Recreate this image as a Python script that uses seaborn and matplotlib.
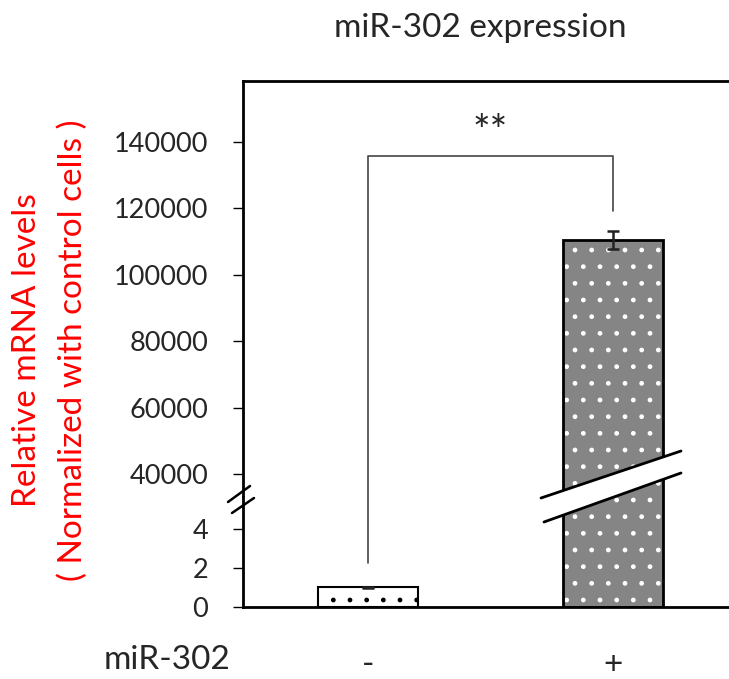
import matplotlib
matplotlib.use('Agg')
import matplotlib.pyplot as plt
import seaborn as sns
import pandas as pd
from matplotlib.patches import Rectangle, Polygon
from matplotlib.lines import Line2D

# ---- data ----
groups = ['-', '+']
values = [1.0, 110400]
errors = [0.05, 2800]
upper_ticks = [40000, 60000, 80000, 100000, 120000, 140000]
lower_ticks = [0, 2, 4]
title = 'miR-302 expression'
ylabel1 = 'Relative mRNA levels'
ylabel2 = '( Normalized with control cells )'
xrow_label = 'miR-302'
sig_label = '**'

sns.set_theme(style='white')
plt.rcParams['font.family'] = ['Lato', 'DejaVu Sans']
plt.rcParams['hatch.linewidth'] = 1.0

W, H = 729, 679
fig = plt.figure(figsize=(W / 100, H / 100), dpi=100)
fig.patch.set_facecolor('white')

def fx(px):
    return px / W

def fy(py):
    return 1 - py / H

ax_top = fig.add_axes([fx(243), fy(497), 1 - fx(243), fy(81) - fy(497)])
ax_bot = fig.add_axes([fx(243), fy(607), 1 - fx(243), fy(497) - fy(607)])

df = pd.DataFrame({'group': groups, 'value': values})
fs = 19.5
fs_big = 24

for ax in (ax_top, ax_bot):
    sns.barplot(data=df, x='group', y='value', hue='group', order=groups,
                palette=['white', '#858585'], legend=False, width=0.405,
                errorbar=None, ax=ax, zorder=2)
    for i, p in enumerate(ax.patches):
        if i == 0:
            p.set_edgecolor('black')
            p.set_hatch('.')
            p.set_linewidth(1.5)
        else:
            p.set_edgecolor('white')
            p.set_hatch('.')
            p.set_linewidth(0)
            outline = Rectangle(p.get_xy(), p.get_width(), p.get_height(),
                                fill=False, edgecolor='black', linewidth=2,
                                zorder=3)
            ax.add_patch(outline)
    ax.errorbar(x=[0, 1], y=values, yerr=errors, fmt='none', ecolor='#222222',
                elinewidth=1.8, capsize=4.5, capthick=1.8, zorder=4)
    ax.set_xlim(-0.51, 1.473)
    ax.set_xlabel('')
    ax.set_ylabel('')
    ax.spines['right'].set_visible(False)
    for s in ax.spines.values():
        s.set_color('black')
        s.set_linewidth(2)

ax_top.set_ylim(33080, 158270)
ax_top.set_yticks(upper_ticks)
ax_top.set_yticklabels([str(t) for t in upper_ticks], fontsize=fs)
ax_top.spines['bottom'].set_visible(False)
ax_top.set_xticks([])
ax_top.tick_params(axis='y', length=7, width=1, color='black', pad=18, left=True)

ax_bot.set_ylim(0, 5.64)
ax_bot.set_yticks(lower_ticks)
ax_bot.set_yticklabels([str(t) for t in lower_ticks], fontsize=fs)
ax_bot.spines['top'].set_visible(False)
ax_bot.set_xticks([0, 1])
ax_bot.set_xticklabels(groups, fontsize=fs_big)
ax_bot.tick_params(axis='x', length=0, pad=31)
ax_bot.tick_params(axis='y', length=7, width=1, color='black', pad=18, left=True)

# significance bracket
ax_top.plot([0, 0, 1, 1], [33080, 135700, 135700, 119150], color='#444444',
            lw=1.2, zorder=5, clip_on=False)
ax_bot.plot([0, 0], [2.26, 5.64], color='#444444', lw=1.2, zorder=5)
ax_top.text(0.5, 142500, sig_label, ha='center', va='center', fontsize=30)

# axis break on the tall bar
band = Polygon([(fx(538), fy(499)), (fx(684), fy(450)), (fx(684), fy(472)),
                (fx(541), fy(523))], closed=True, transform=fig.transFigure,
               facecolor='white', edgecolor='none', zorder=10)
fig.add_artist(band)
fig.add_artist(Line2D([fx(541), fx(681)], [fy(498), fy(451)], transform=fig.transFigure,
                      color='black', lw=2, zorder=11))
fig.add_artist(Line2D([fx(544), fx(681)], [fy(522), fy(473)], transform=fig.transFigure,
                      color='black', lw=2, zorder=11))
# break marks on y axis
fig.add_artist(Line2D([fx(228), fx(250)], [fy(502), fy(486)], transform=fig.transFigure,
                      color='black', lw=1.8, zorder=11))
fig.add_artist(Line2D([fx(232), fx(254)], [fy(513), fy(498)], transform=fig.transFigure,
                      color='black', lw=1.8, zorder=11))

# texts
fig.text(fx(480), fy(28), title, ha='center', va='center', fontsize=fs_big)
fig.text(fx(27), fy(350), ylabel1, ha='center', va='center', rotation=90,
         fontsize=fs_big, color='#ff0000')
fig.text(fx(73), fy(350), ylabel2, ha='center', va='center', rotation=90,
         fontsize=fs_big, color='#ff0000')
fig.text(fx(167), fy(660), xrow_label, ha='center', va='center', fontsize=fs_big)

fig.savefig('out.png', dpi=100, facecolor='white')
